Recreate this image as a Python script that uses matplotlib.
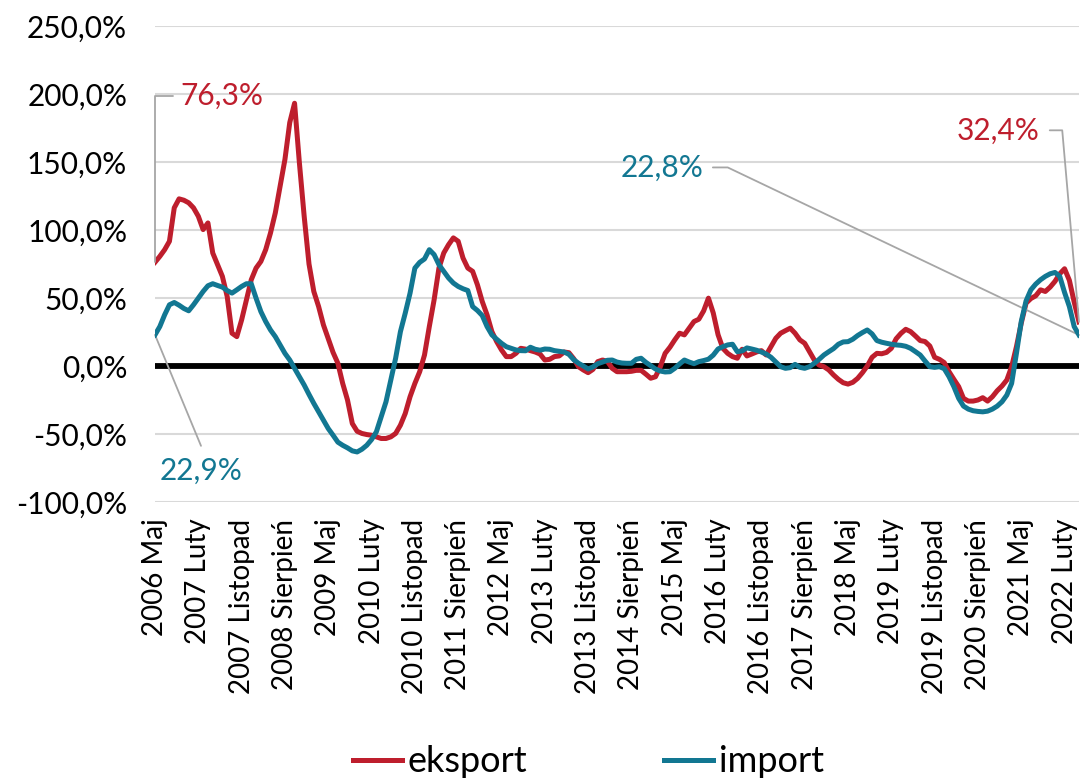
import matplotlib
matplotlib.use("Agg")
import matplotlib.pyplot as plt
from matplotlib.lines import Line2D

# Monthly y/y change, May 2006 .. May 2022 (values in %)
export = [
    76.3, 80.6, 85.5, 91.7, 116.3, 122.9, 121.9, 120.0, 116.3, 110.1,
    100.3, 105.2, 83.1, 74.5, 65.9, 51.1, 24.1, 21.6, 33.9, 48.7,
    63.4, 72.0, 76.9, 85.5, 97.8, 112.6, 132.3, 151.9, 179.0, 193.2,
    149.5, 110.0, 75.0, 54.8, 43.7, 30.2, 20.0, 10.0, 2.0, -12.8,
    -25.0, -42.3, -48.0, -49.6, -50.4, -50.9, -52.1, -53.3, -53.3, -52.1,
    -49.6, -43.5, -34.9, -22.6, -12.8, -4.2, 8.1, 29.0, 48.7, 72.0,
    83.1, 89.2, 94.2, 91.7, 79.4, 72.0, 69.6, 59.7, 47.4, 37.6,
    25.3, 17.9, 11.8, 6.9, 6.9, 9.3, 13.0, 12.4, 11.3, 10.3,
    8.8, 4.4, 4.9, 6.9, 7.4, 10.3, 9.8, 5.4, -0.5, -2.9,
    -4.9, -2.5, 3.2, 4.4, 3.4, -1.7, -4.2, -4.2, -4.2, -3.9,
    -3.2, -3.2, -6.0, -9.0, -7.9, -0.5, 9.3, 13.8, 19.2, 24.1,
    22.9, 27.8, 32.7, 34.4, 40.5, 49.9, 39.0, 23.0, 13.0, 9.3,
    6.9, 5.7, 12.3, 7.4, 8.8, 10.3, 11.3, 8.1, 14.2, 20.4,
    24.1, 26.0, 27.8, 24.1, 19.2, 16.7, 10.5, 4.4, 0.7, -0.5,
    -2.9, -6.6, -9.8, -12.3, -13.3, -12.0, -9.1, -4.9, 0.0, 6.4,
    9.3, 9.0, 10.0, 13.0, 20.0, 24.0, 27.0, 25.3, 22.1, 18.7,
    18.0, 14.7, 6.4, 4.9, 2.5, -4.2, -9.8, -15.2, -23.8, -25.8,
    -25.8, -25.0, -23.3, -25.8, -22.6, -18.2, -14.7, -10.3, -0.5, 14.2,
    31.5, 46.2, 49.6, 51.6, 56.0, 54.8, 58.0, 62.2, 67.8, 71.5,
    63.0, 47.0, 32.4,
]

imports = [
    22.9, 29.0, 37.6, 45.0, 46.7, 44.7, 42.3, 40.6, 45.0, 49.9,
    54.8, 59.0, 60.5, 59.2, 58.0, 55.5, 53.6, 56.0, 58.5, 60.5,
    60.5, 49.9, 40.0, 32.7, 26.5, 21.6, 15.5, 9.3, 4.4, -1.7,
    -7.9, -14.0, -20.9, -27.5, -33.7, -39.8, -46.0, -50.9, -56.0, -58.3,
    -60.2, -62.4, -63.2, -61.2, -58.3, -54.1, -48.4, -37.4, -26.3, -10.3,
    5.7, 25.3, 38.9, 53.6, 72.0, 76.2, 78.7, 85.5, 81.9, 74.5,
    69.6, 64.7, 61.0, 58.5, 56.8, 55.5, 43.7, 40.8, 37.1, 29.0,
    22.9, 19.7, 16.7, 14.2, 13.0, 11.8, 11.3, 11.2, 13.8, 12.3,
    11.6, 12.5, 12.3, 11.3, 10.8, 10.3, 8.6, 4.7, 2.0, 0.0,
    -2.2, -0.7, 1.7, 2.9, 4.2, 4.4, 2.9, 2.2, 2.0, 2.0,
    4.9, 5.7, 2.7, 0.2, -2.2, -3.7, -4.4, -4.2, -1.7, 1.5,
    4.4, 2.9, 1.7, 3.2, 4.0, 5.0, 8.0, 12.5, 14.2, 15.5,
    16.0, 10.5, 11.1, 13.3, 12.5, 11.6, 10.3, 8.8, 6.4, 2.9,
    -0.5, -1.7, -1.2, 1.2, -1.0, -1.7, -0.5, 2.0, 4.9, 8.1,
    10.5, 12.8, 16.0, 17.7, 17.9, 19.7, 22.4, 24.6, 26.5, 23.6,
    18.7, 17.5, 16.7, 16.0, 15.5, 15.2, 14.5, 13.0, 10.6, 8.1,
    3.7, -0.5, -1.0, -0.5, -2.0, -7.9, -15.2, -23.8, -29.5, -31.7,
    -32.9, -33.4, -33.7, -33.2, -31.7, -29.5, -26.3, -21.4, -12.8, 9.3,
    32.7, 47.9, 56.0, 60.2, 63.4, 65.9, 67.8, 68.8, 65.9, 54.1,
    43.7, 29.0, 22.8,
]

tick_labels = [
    "2006 Maj", "2007 Luty", "2007 Listopad", "2008 Sierpień", "2009 Maj",
    "2010 Luty", "2010 Listopad", "2011 Sierpień", "2012 Maj", "2013 Luty",
    "2013 Listopad", "2014 Sierpień", "2015 Maj", "2016 Luty", "2016 Listopad",
    "2017 Sierpień", "2018 Maj", "2019 Luty", "2019 Listopad", "2020 Sierpień",
    "2021 Maj", "2022 Luty",
]
tick_step = 9
y_ticks = [-100, -50, 0, 50, 100, 150, 200, 250]
series_names = ["eksport", "import"]
first_label = ["76,3%", "22,9%"]
last_label = ["32,4%", "22,8%"]

RED = "#BE1E2D"
TEAL = "#127792"
GRAY = "#A6A6A6"
FS_X = 20
FS = 21.5
FS_LEG = 26

plt.rcParams["font.family"] = ["Lato", "DejaVu Sans"]

fig = plt.figure(figsize=(10.83, 7.78), dpi=100)
ax = fig.add_axes([155 / 1083, 1 - 502 / 778, 924 / 1083, 476 / 778])

x = list(range(len(export)))
ax.axhline(0, color="black", lw=4.2, zorder=2)
ax.plot(x, export, color=RED, lw=3.6, solid_joinstyle="round", zorder=3)
ax.plot(x, imports, color=TEAL, lw=3.6, solid_joinstyle="round", zorder=4)

ax.set_xlim(0, len(export) - 1)
ax.set_ylim(y_ticks[0], y_ticks[-1])
ax.set_yticks(y_ticks)
ax.set_yticklabels([f"{v:.1f}%".replace(".", ",") for v in y_ticks])
ax.set_xticks([i * tick_step for i in range(len(tick_labels))])
ax.set_xticklabels(tick_labels, rotation=90)
ax.grid(axis="y", color="#D9D9D9", lw=1.5, zorder=0)
ax.set_axisbelow(True)
ax.tick_params(axis="x", length=0, labelsize=FS_X, pad=12)
ax.tick_params(axis="y", length=0, labelsize=FS, pad=20)
for s in ax.spines.values():
    s.set_visible(False)

n = len(export) - 1
# annotations
ax.annotate(first_label[0], xy=(0, export[0]), xytext=(5.2, 198.4),
            color=RED, fontsize=FS, ha="left", va="center",
            arrowprops=dict(arrowstyle="-", color=GRAY, lw=1.3,
                            connectionstyle="angle,angleA=0,angleB=90,rad=0",
                            relpos=(0, 0.5), shrinkA=3, shrinkB=0))
ax.annotate(first_label[1], xy=(0, imports[0]), xytext=(9.6, -76.7),
            color=TEAL, fontsize=FS, ha="center", va="center",
            arrowprops=dict(arrowstyle="-", color=GRAY, lw=1.3,
                            relpos=(0.55, 1.0), shrinkA=6, shrinkB=0))
ax.annotate(last_label[1], xy=(n, imports[-1]), xytext=(113.9, 146.0),
            color=TEAL, fontsize=FS, ha="right", va="center",
            arrowprops=dict(arrowstyle="-", color=GRAY, lw=1.3,
                            connectionstyle="angle,angleA=0,angleB=-25.5,rad=0",
                            relpos=(1, 0.5), shrinkA=5, shrinkB=0))
ax.annotate(last_label[0], xy=(n, export[-1]), xytext=(183.9, 173.3),
            color=RED, fontsize=FS, ha="right", va="center",
            arrowprops=dict(arrowstyle="-", color=GRAY, lw=1.3,
                            connectionstyle="angle,angleA=0,angleB=95,rad=0",
                            relpos=(1, 0.5), shrinkA=5, shrinkB=0))

handles = [Line2D([], [], color=RED, lw=3.6), Line2D([], [], color=TEAL, lw=3.6)]
fig.legend(handles, series_names, loc="center", bbox_to_anchor=(0.5434, 0.021),
           ncol=2, frameon=False, fontsize=FS_LEG, handlelength=1.35,
           handletextpad=0.15, columnspacing=3.8)

fig.savefig("out.png", dpi=100)
